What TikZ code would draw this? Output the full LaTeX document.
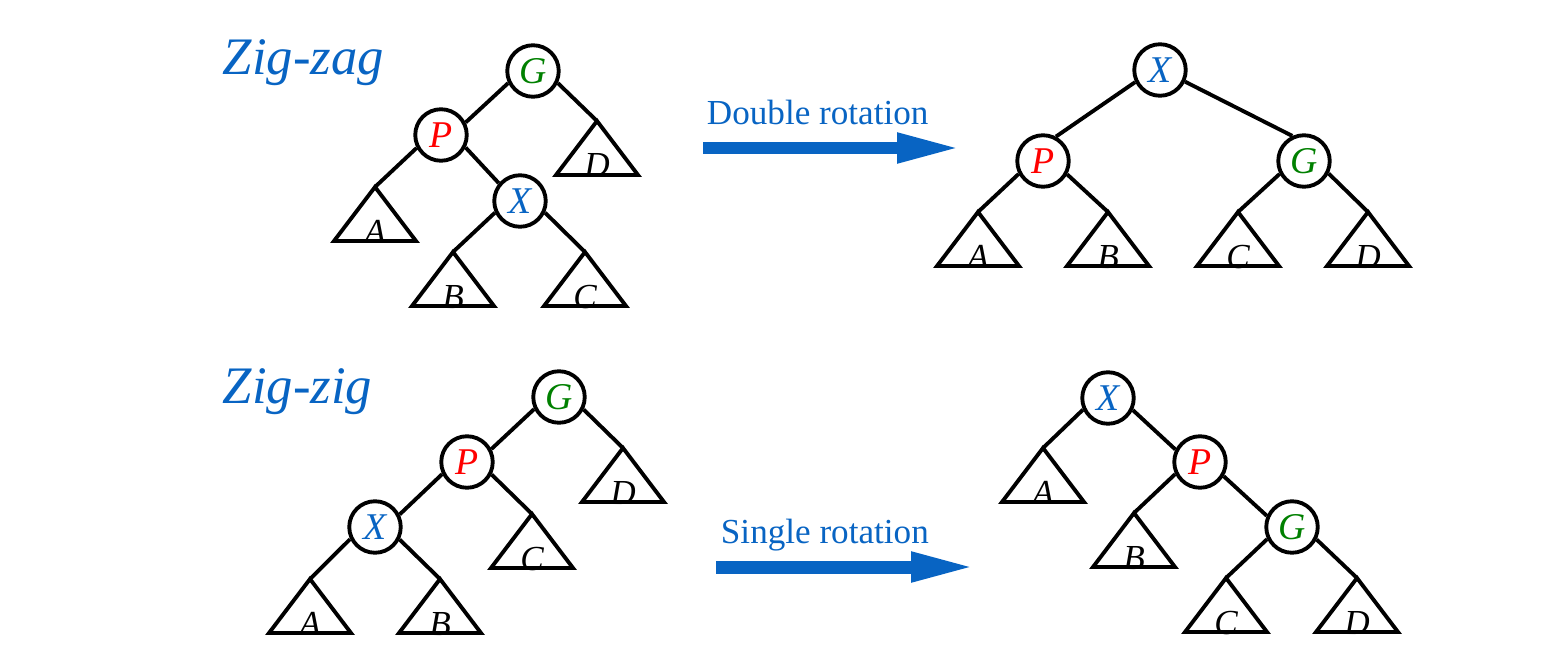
\documentclass[tikz,border=0pt]{standalone}
\usepackage{fontspec}
\setmainfont{Liberation Serif}
\usetikzlibrary{arrows.meta}
\definecolor{keyblue}{RGB}{8,100,195}
\definecolor{keygreen}{RGB}{0,128,0}
\tikzset{
  key/.style={circle,draw,minimum size=1.03cm,inner sep=0pt,font=\fontsize{21.5}{21.5}\selectfont\itshape},
  sublabel/.style={font=\fontsize{20}{20}\selectfont\itshape,inner sep=0pt,anchor=base},
  casename/.style={font=\fontsize{30}{30}\selectfont\itshape,text=keyblue,inner sep=0pt,anchor=base west},
  rotname/.style={font=\fontsize{20}{20}\selectfont,text=keyblue,inner sep=0pt,anchor=base west},
  rotarrow/.style={keyblue,line width=0.26cm,-{Triangle[length=1.32cm,width=0.54cm]}},
}
% subtree triangle: name, apex x, apex y, label
\newcommand{\subtri}[4]{%
  \coordinate (#1) at (#2,#3);
  \node[sublabel] (#1l) at (#2,#3+56) {#4};
  \draw (#1) -- ++(-41,54) -- ++(82,0) -- cycle;
}
\begin{document}
\begin{tikzpicture}[x=0.02cm,y=-0.02cm,line width=2.2pt,line join=miter]
\useasboundingbox (0,0) rectangle (1564,672);
% zig-zag, before
\node[casename] (zagT) at (221,75) {Zig-zag};
\node[key,text=keygreen] (zagG) at (533,71) {G};
\node[key,text=red] (zagP) at (441,135) {P};
\node[key,text=keyblue] (zagX) at (520,201) {X};
\subtri{zagA}{375}{187}{A}
\subtri{zagD}{597}{121}{D}
\subtri{zagB}{453}{252}{B}
\subtri{zagC}{585}{252}{C}
\foreach \a/\b in {zagG.206/zagP.27,zagG.334/zagD,zagP.208/zagA,
                   zagP.333/zagX.140,zagX.205/zagB,zagX.335/zagC}
  \draw (\a) -- (\b);
% double rotation
\node[rotname] (dblT) at (705,125) {Double rotation};
\coordinate (dblS) at (703,148);
\coordinate (dblE) at (963,148);
\draw[rotarrow] (dblS) -- (dblE);
% zig-zag, after
\node[key,text=keyblue] (dblX) at (1160,70) {X};
\node[key,text=red] (dblP) at (1043,161) {P};
\node[key,text=keygreen] (dblG) at (1304,161) {G};
\subtri{dblA}{978}{212}{A}
\subtri{dblB}{1108}{212}{B}
\subtri{dblC}{1238}{212}{C}
\subtri{dblD}{1368}{212}{D}
\foreach \a/\b in {dblX.206/dblP.62,dblX.335/dblG.115,dblP.208/dblA,
                   dblP.331/dblB,dblG.208/dblC,dblG.333/dblD}
  \draw (\a) -- (\b);
% zig-zig, before
\node[casename] (zigT) at (221,403) {Zig-zig};
\node[key,text=keygreen] (zigG) at (559,397) {G};
\node[key,text=red] (zigP) at (467,462) {P};
\node[key,text=keyblue] (zigX) at (375,527) {X};
\subtri{zigD}{623}{448}{D}
\subtri{zigC}{532}{514}{C}
\subtri{zigA}{310}{579}{A}
\subtri{zigB}{440}{579}{B}
\foreach \a/\b in {zigG.206/zigP.28,zigG.333/zigD,zigP.206/zigX.27,
                   zigP.333/zigC,zigX.206/zigA,zigX.333/zigB}
  \draw (\a) -- (\b);
% single rotation
\node[rotname] (sglT) at (719,543) {Single rotation};
\coordinate (sglS) at (716,567);
\coordinate (sglE) at (977,567);
\draw[rotarrow] (sglS) -- (sglE);
% zig-zig, after
\node[key,text=keyblue] (sglX) at (1108,398) {X};
\node[key,text=red] (sglP) at (1200,462) {P};
\node[key,text=keygreen] (sglG) at (1292,527) {G};
\subtri{sglA}{1043}{448}{A}
\subtri{sglB}{1134}{513}{B}
\subtri{sglC}{1226}{578}{C}
\subtri{sglD}{1357}{578}{D}
\foreach \a/\b in {sglX.205/sglA,sglX.334/sglP.153,sglP.206/sglB,
                   sglP.329/sglG.156,sglG.206/sglC,sglG.333/sglD}
  \draw (\a) -- (\b);
\end{tikzpicture}
\end{document}
